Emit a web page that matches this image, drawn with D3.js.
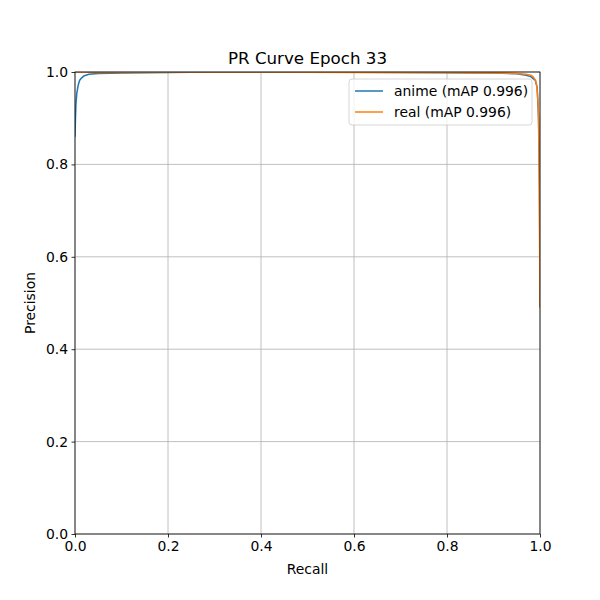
<!DOCTYPE html>
<html><head><meta charset="utf-8">
<script src="https://cdn.jsdelivr.net/npm/d3@7"></script>
<style>body{margin:0;background:#fff}svg{display:block}text{font-family:"DejaVu Sans",sans-serif;fill:#000}</style>
</head><body>
<script>
const titleText = "PR Curve Epoch 33";
const xTicks = [0, 0.2, 0.4, 0.6, 0.8, 1.0];
const yTicks = [0, 0.2, 0.4, 0.6, 0.8, 1.0];
const seriesNames = ["anime (mAP 0.996)", "real (mAP 0.996)"];
const animeRecall =    [0, 0.001, 0.002, 0.004, 0.007, 0.01, 0.015, 0.02, 0.03, 0.05, 0.1, 0.2, 0.3, 0.5, 0.7, 0.9, 0.95, 0.97, 0.98, 0.99, 0.994, 0.997, 0.999, 1.0];
const animePrecision = [0.86, 0.90, 0.93, 0.955, 0.972, 0.982, 0.988, 0.992, 0.995, 0.997, 0.998, 0.999, 1.0, 1.0, 0.999, 0.998, 0.996, 0.993, 0.99, 0.982, 0.965, 0.9, 0.75, 0.49];
const realRecall =     [0, 0.01, 0.05, 0.2, 0.4, 0.6, 0.8, 0.9, 0.95, 0.97, 0.98, 0.985, 0.99, 0.993, 0.996, 0.998, 0.999, 1.0];
const realPrecision =  [1.0, 1.0, 0.999, 1.0, 1.0, 0.999, 0.999, 0.998, 0.997, 0.995, 0.993, 0.99, 0.983, 0.972, 0.93, 0.82, 0.66, 0.49];
const colors = ["#1f77b4", "#ff7f0e"];

const W = 600, H = 600;
const m = {l: 75, r: 60, t: 72, b: 66};
const svg = d3.select("body").append("svg").attr("width", W).attr("height", H);
const x = d3.scaleLinear().domain([0, 1]).range([m.l, W - m.r]);
const y = d3.scaleLinear().domain([0, 1]).range([H - m.b, m.t]);

svg.append("defs").append("clipPath").attr("id", "clip").append("rect")
  .attr("x", m.l).attr("y", m.t).attr("width", W - m.l - m.r).attr("height", H - m.t - m.b);

// grid
const g = svg.append("g");
g.selectAll(".gx").data(xTicks).join("line")
  .attr("x1", d => x(d)).attr("x2", d => x(d)).attr("y1", m.t).attr("y2", H - m.b)
  .attr("stroke", "#b0b0b0").attr("stroke-width", 0.8);
g.selectAll(".gy").data(yTicks).join("line")
  .attr("y1", d => y(d)).attr("y2", d => y(d)).attr("x1", m.l).attr("x2", W - m.r)
  .attr("stroke", "#b0b0b0").attr("stroke-width", 0.8);

const line = d3.line().x(d => x(d[0])).y(d => y(d[1]));
const series = [
  d3.zip(animeRecall, animePrecision),
  d3.zip(realRecall, realPrecision)
];
const lg = svg.append("g").attr("clip-path", "url(#clip)");
series.forEach((s, i) => {
  lg.append("path").datum(s).attr("d", line).attr("fill", "none")
    .attr("stroke", colors[i]).attr("stroke-width", 1.5).attr("stroke-linejoin", "round");
});

// axes
const fmt = d3.format(".1f");
const xa = svg.append("g").attr("transform", `translate(0,${H - m.b})`)
  .call(d3.axisBottom(x).tickValues(xTicks).tickFormat(fmt).tickSize(3.5).tickPadding(3.5));
const ya = svg.append("g").attr("transform", `translate(${m.l},0)`)
  .call(d3.axisLeft(y).tickValues(yTicks).tickFormat(fmt).tickSize(3.5).tickPadding(3.5));
[xa, ya].forEach(a => {
  a.select(".domain").remove();
  a.selectAll("text").attr("font-size", 13.9).attr("font-family", "DejaVu Sans");
  a.selectAll("line").attr("stroke", "#000").attr("stroke-width", 0.8);
});
svg.append("rect").attr("x", m.l).attr("y", m.t).attr("width", W - m.l - m.r).attr("height", H - m.t - m.b)
  .attr("fill", "none").attr("stroke", "#000").attr("stroke-width", 0.8);

svg.append("text").attr("x", (m.l + W - m.r) / 2).attr("y", 64).attr("text-anchor", "middle")
  .attr("font-size", 16.7).text(titleText);
svg.append("text").attr("x", (m.l + W - m.r) / 2).attr("y", 574).attr("text-anchor", "middle")
  .attr("font-size", 13.9).text("Recall");
svg.append("text").attr("transform", `translate(35,${(m.t + H - m.b) / 2}) rotate(-90)`).attr("text-anchor", "middle")
  .attr("font-size", 13.9).text("Precision");

// legend
const leg = svg.append("g");
leg.append("rect").attr("x", 349).attr("y", 79).attr("width", 183).attr("height", 46).attr("rx", 3)
  .attr("fill", "#fff").attr("fill-opacity", 0.8).attr("stroke", "#cccccc").attr("stroke-width", 0.8);
seriesNames.forEach((n, i) => {
  const yy = 91 + i * 21;
  leg.append("line").attr("x1", 355).attr("x2", 383).attr("y1", yy).attr("y2", yy)
    .attr("stroke", colors[i]).attr("stroke-width", 1.5);
  leg.append("text").attr("x", 394).attr("y", yy + 5).attr("font-size", 13.9).text(n);
});
</script>
</body></html>
